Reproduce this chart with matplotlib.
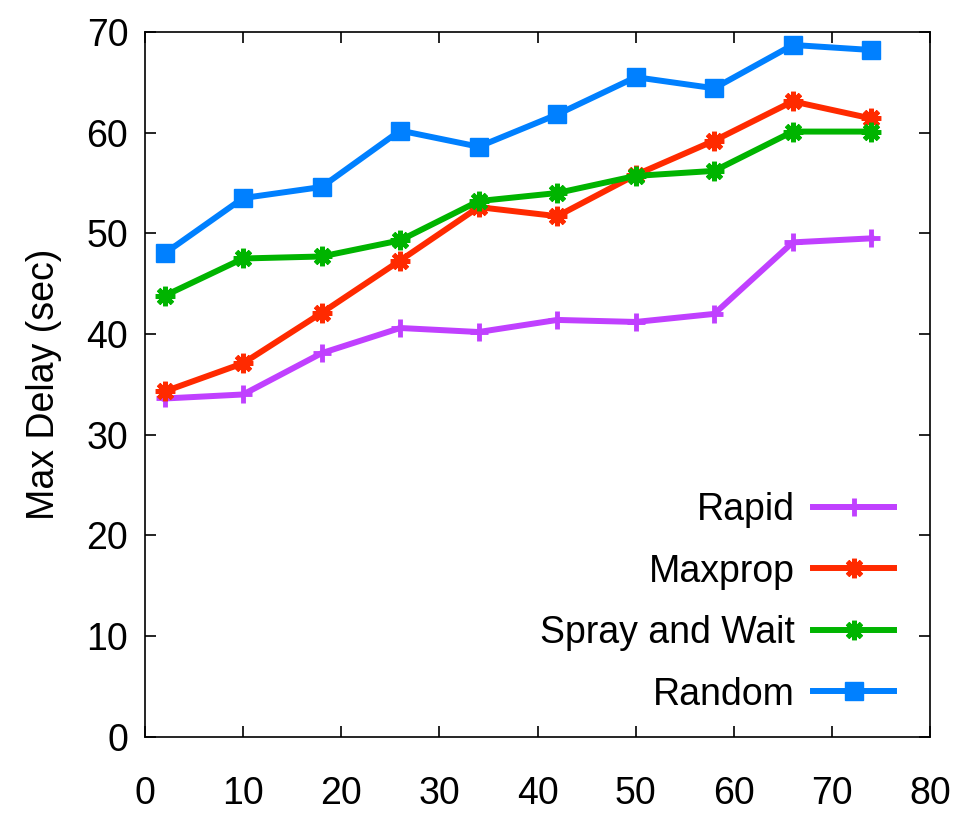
import matplotlib
matplotlib.use("Agg")
import matplotlib.pyplot as plt

plt.rcParams['font.family'] = ['Liberation Sans', 'DejaVu Sans']

x = [2, 10, 18, 26, 34, 42, 50, 58, 66, 74]
rapid = [33.6, 34.0, 38.1, 40.6, 40.2, 41.4, 41.2, 42.0, 49.1, 49.5]
maxprop = [34.3, 37.1, 42.1, 47.3, 52.6, 51.7, 55.8, 59.2, 63.1, 61.4]
spray = [43.8, 47.5, 47.7, 49.3, 53.2, 54.0, 55.7, 56.2, 60.1, 60.1]
random_ = [48.0, 53.5, 54.6, 60.2, 58.6, 61.8, 65.5, 64.4, 68.7, 68.2]
labels = ["Rapid", "Maxprop", "Spray and Wait", "Random"]
xticks = [0, 10, 20, 30, 40, 50, 60, 70, 80]
yticks = [0, 10, 20, 30, 40, 50, 60, 70]

fig = plt.figure(figsize=(9.73, 8.17), dpi=100)
ax = fig.add_axes([0.149, 0.098, 0.807, 0.863])

lw = 4.3
ax.plot(x, rapid, color='#c040ff', lw=lw, marker='+', ms=13, mew=3.5, label=labels[0])
ax.plot(x, maxprop, color='#ff2a00', lw=lw, marker=(8, 2, 0), ms=14, mew=3.5, label=labels[1])
ax.plot(x, spray, color='#00b400', lw=lw, marker=(8, 2, 0), ms=14, mew=3.5, label=labels[2])
ax.plot(x, random_, color='#0080ff', lw=lw, marker='s', ms=13, label=labels[3])

ax.set_xlim(0, 80)
ax.set_ylim(0, 70)
ax.set_xticks(xticks)
ax.set_yticks(yticks)
ax.tick_params(direction='in', length=8, width=1.2, top=True, right=True, labelsize=27)
ax.tick_params(axis='x', pad=28)
ax.tick_params(axis='y', pad=12)
for s in ax.spines.values():
    s.set_linewidth(1.2)
ax.set_ylabel("Max Delay (sec)", fontsize=27, labelpad=18)

leg = ax.legend(loc='lower right', frameon=False, markerfirst=False, fontsize=27,
                handlelength=2.15, labelspacing=0.68, handletextpad=0.5,
                borderaxespad=0.25, bbox_to_anchor=(0.985, 0.0))

fig.savefig("out.png", dpi=100)
